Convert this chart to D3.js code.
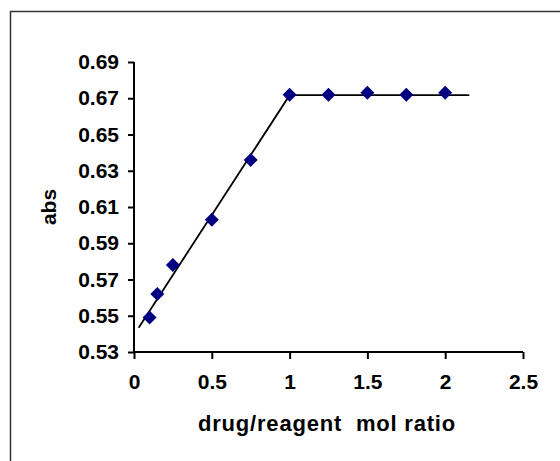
<!DOCTYPE html>
<html>
<head>
<meta charset="utf-8">
<script src="https://cdn.jsdelivr.net/npm/d3@7"></script>
<style>
  html, body { margin: 0; padding: 0; background: #fff; }
  svg { display: block; }
  .axis text { font-family: "Liberation Sans", Arial, sans-serif; font-weight: bold; font-size: 21px; fill: #000; }
</style>
</head>
<body>
<div id="chart"></div>
<script>
// data
const ratio = [0.1, 0.15, 0.25, 0.5, 0.75, 1, 1.25, 1.5, 1.75, 2];
const absorbance = [0.549, 0.562, 0.578, 0.603, 0.636, 0.672, 0.672, 0.673, 0.672, 0.673];

// the two fitted segments (start, break point, end)
const fitRatio = [0.03, 1.0, 2.155];
const fitAbs = [0.5434, 0.6717, 0.6717];

const xTicks = [0, 0.5, 1, 1.5, 2, 2.5];
const yTicks = [0.53, 0.55, 0.57, 0.59, 0.61, 0.63, 0.65, 0.67, 0.69];

const width = 560;
const height = 461;
const plot = {left: 134, right: 523, top: 62, bottom: 352};

const svg = d3.select("#chart").append("svg")
  .attr("width", width)
  .attr("height", height);

// outer frame (runs off the right and bottom of the picture)
svg.append("rect")
  .attr("x", 10.5)
  .attr("y", 11.5)
  .attr("width", 620)
  .attr("height", 520)
  .attr("fill", "none")
  .attr("stroke", "#333")
  .attr("stroke-width", 1.5);

const xScale = d3.scaleLinear().domain([0, 2.5]).range([plot.left, plot.right]);
const yScale = d3.scaleLinear().domain([0.53, 0.69]).range([plot.bottom, plot.top]);

// x-axis
const xAxis = svg.append("g")
  .attr("class", "axis")
  .attr("transform", `translate(0, ${plot.bottom})`)
  .call(d3.axisBottom(xScale).tickValues(xTicks).tickFormat(d3.format("")).tickSize(7).tickPadding(15));

// y-axis
const yAxis = svg.append("g")
  .attr("class", "axis")
  .attr("transform", `translate(${plot.left}, 0)`)
  .call(d3.axisLeft(yScale).tickValues(yTicks).tickFormat(d3.format(".2f")).tickSize(6).tickPadding(9));

svg.selectAll(".axis .domain").attr("stroke", "#000").attr("stroke-width", 2);
svg.selectAll(".axis .tick line").attr("stroke", "#000").attr("stroke-width", 2);
xAxis.select(".domain").attr("d", `M${plot.left},0H${plot.right}`);
yAxis.select(".domain").attr("d", `M0,${plot.top}V${plot.bottom}`);

// fitted line
const line = d3.line()
  .x(d => xScale(d[0]))
  .y(d => yScale(d[1]));

svg.append("path")
  .datum(fitRatio.map((r, i) => [r, fitAbs[i]]))
  .attr("d", line)
  .attr("fill", "none")
  .attr("stroke", "#000")
  .attr("stroke-width", 1.8);

// diamond markers
svg.selectAll(".pt")
  .data(ratio.map((r, i) => [r, absorbance[i]]))
  .join("path")
  .attr("class", "pt")
  .attr("transform", d => `translate(${xScale(d[0])}, ${yScale(d[1])})`)
  .attr("d", "M0,-7L7,0L0,7L-7,0Z")
  .attr("fill", "#000080");

// axis titles
svg.append("text")
  .attr("x", 327)
  .attr("y", 431)
  .attr("text-anchor", "middle")
  .style("font-family", "Liberation Sans, Arial, sans-serif")
  .style("font-weight", "bold")
  .style("font-size", "22px")
  .style("letter-spacing", "0.8px")
  .style("white-space", "pre")
  .text("drug/reagent  mol ratio");

svg.append("text")
  .attr("transform", `translate(56, ${(plot.top + plot.bottom) / 2}) rotate(-90)`)
  .attr("text-anchor", "middle")
  .style("font-family", "Liberation Sans, Arial, sans-serif")
  .style("font-weight", "bold")
  .style("font-size", "21px")
  .text("abs");
</script>
</body>
</html>
